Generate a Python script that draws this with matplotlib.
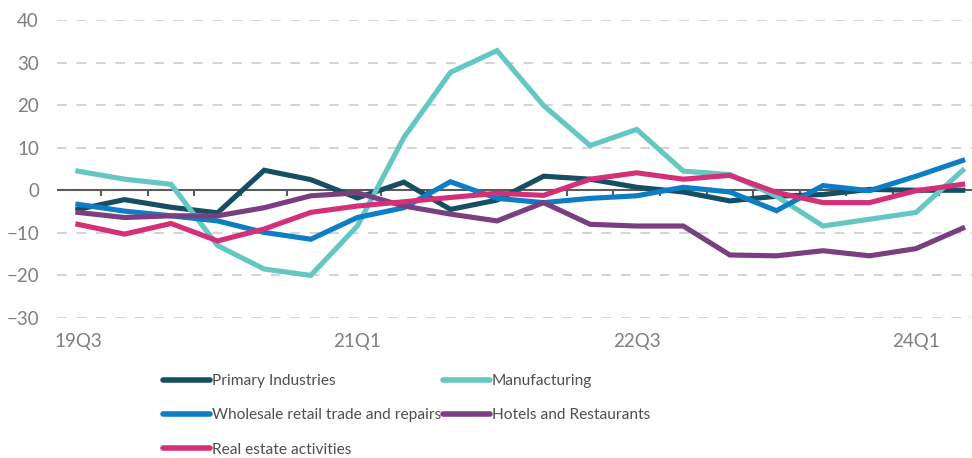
import matplotlib
matplotlib.use("Agg")
import matplotlib.pyplot as plt

plt.rcParams['font.family'] = ['Lato', 'DejaVu Sans']

quarters = ["19Q3", "19Q4", "20Q1", "20Q2", "20Q3", "20Q4", "21Q1", "21Q2", "21Q3", "21Q4",
            "22Q1", "22Q2", "22Q3", "22Q4", "23Q1", "23Q2", "23Q3", "23Q4", "24Q1", "24Q2"]

primary = [-4.5, -2.2, -4.0, -5.3, 4.7, 2.5, -1.8, 1.9, -4.5, -2.3,
           3.3, 2.6, 0.7, -0.4, -2.5, -1.4, -1.0, 0.2, 0.0, 0.0]
manufacturing = [4.5, 2.6, 1.4, -13.0, -18.5, -20.0, -8.4, 12.4, 27.7, 32.8,
                 19.9, 10.5, 14.3, 4.5, 3.7, -1.4, -8.4, -6.8, -5.2, 4.7]
wholesale = [-3.3, -4.9, -6.0, -7.2, -9.9, -11.5, -6.4, -4.1, 2.0, -1.9,
             -2.9, -1.9, -1.3, 0.7, -0.4, -4.8, 1.1, -0.1, 3.3, 7.0]
hotels = [-5.2, -6.4, -6.0, -6.0, -4.1, -1.3, -0.6, -3.7, -5.6, -7.2,
          -2.9, -8.0, -8.4, -8.4, -15.2, -15.4, -14.2, -15.4, -13.7, -8.9]
real_estate = [-8.0, -10.3, -7.8, -11.9, -9.1, -5.2, -3.7, -2.7, -1.7, -0.7,
               -1.2, 2.6, 4.1, 2.6, 3.5, -0.5, -2.9, -2.9, -0.1, 1.4]

series = [
    ("Primary Industries", primary, "#164e63"),
    ("Manufacturing", manufacturing, "#64c7c1"),
    ("Wholesale retail trade and repairs", wholesale, "#0d7dc6"),
    ("Hotels and Restaurants", hotels, "#7a3f80"),
    ("Real estate activities", real_estate, "#d52f78"),
]

fig = plt.figure(figsize=(9.72, 4.58), dpi=100)
ax = fig.add_axes([0.0586, 0.3057, 0.9414, 0.6507])

x = list(range(len(quarters)))
handles = {}
for name, vals, color in series:
    h, = ax.plot(x, vals, color=color, lw=3.7, solid_joinstyle="miter", label=name, zorder=3)
    handles[name] = h

ax.set_ylim(-30, 40)
ax.set_xlim(-0.45, 19.2)
ax.set_yticks(range(-30, 41, 10))
ax.yaxis.grid(True, color="#d3d3d3", lw=1.4, linestyle=(0, (5, 5)))
ax.set_axisbelow(True)
for s in ax.spines.values():
    s.set_visible(False)
ax.tick_params(axis="y", length=0, pad=13, labelsize=13.5, labelcolor="#7f7f7f")
ax.set_xticks(x[::6], [quarters[i] for i in x[::6]])
ax.tick_params(axis="x", length=0, pad=11, labelsize=13.5, labelcolor="#7f7f7f")

# zero axis with boundary ticks
ax.axhline(0, color="#5a5a5a", lw=1.5, zorder=2)
sec = ax.secondary_xaxis(0, transform=ax.transData)
sec.set_xticks([i - 0.5 for i in x], [])
sec.tick_params(length=4, width=1.5, color="#5a5a5a")
sec.spines["bottom"].set_visible(False)

order = ["Primary Industries", "Wholesale retail trade and repairs", "Real estate activities",
         "Manufacturing", "Hotels and Restaurants"]
leg = fig.legend([handles[n] for n in order], order, ncol=2, loc="upper left",
                 bbox_to_anchor=(0.168, 0.183), frameon=False, fontsize=11.2,
                 handlelength=3.0, handletextpad=0.15, columnspacing=0.1,
                 labelspacing=1.3, borderaxespad=0, borderpad=0)
for t in leg.get_texts():
    t.set_color("#4f4f4f")
for l in leg.get_lines():
    l.set_linewidth(4)
    l.set_solid_capstyle("round")

fig.savefig("out.png", dpi=100)
